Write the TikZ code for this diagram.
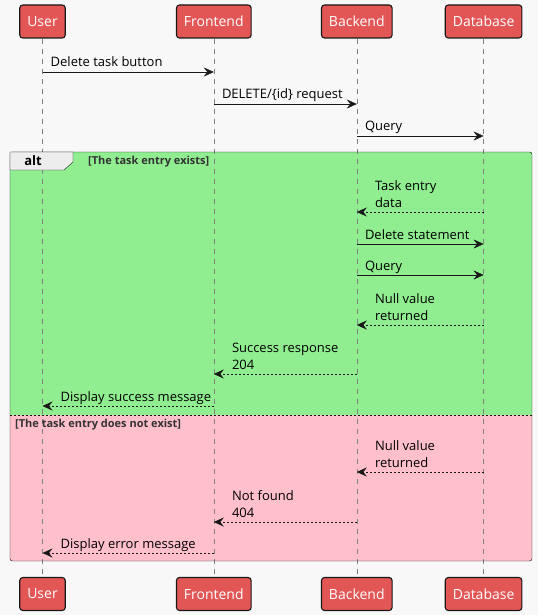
\documentclass[tikz,border=0pt]{standalone}
\usepackage{fontspec}
\setmainfont{Open Sans}
\usetikzlibrary{arrows.meta}

\definecolor{partred}{HTML}{E25656}
\definecolor{okgreen}{HTML}{90EE90}
\definecolor{nopink}{HTML}{FFC0CB}
\definecolor{bgpaper}{HTML}{F8F8F8}
\definecolor{inkdark}{HTML}{181818}

\tikzset{
  actor/.style={draw=inkdark, fill=partred, rounded corners=3pt, line width=1.1pt,
    minimum height=33pt, inner xsep=7.5pt, text=white,
    font=\fontsize{14}{16}\selectfont},
  life/.style={draw=gray, dash pattern=on 5pt off 5pt},
  call/.style={draw=inkdark, -{Stealth[length=10pt,width=9pt,inset=3.5pt]}},
  reply/.style={call, dash pattern=on 2pt off 2pt},
  lbl/.style={font=\fontsize{13}{16.5}\selectfont, align=left, inner sep=0pt,
    anchor=base west},
  fwd/.style={lbl, pos=0, xshift=8pt, yshift=5pt},
  bwd/.style={lbl, pos=1, xshift=18pt, yshift=5pt},
  guard/.style={font=\bfseries\fontsize{11}{12}\selectfont, text=black!80,
    inner sep=0pt, anchor=base west}
}

\begin{document}
\begin{tikzpicture}[x=1pt, y=-1pt]
    \fill[bgpaper] (0,0) rectangle (538,615);
    \useasboundingbox (0,0) rectangle (538,615);
    % participants, top and bottom
    \node[actor] (uT) at (42.5,21.5) {User};
    \node[actor] (fT) at (213.8,21.5) {Frontend};
    \node[actor] (bT) at (356.8,21.5) {Backend};
    \node[actor] (dT) at (483.6,21.5) {Database};
    \node[actor] (uB) at (42.5,594) {User};
    \node[actor] (fB) at (213.8,594) {Frontend};
    \node[actor] (bB) at (356.8,594) {Backend};
    \node[actor] (dB) at (483.6,594) {Database};
    % alt frame, background
    \fill[okgreen] (10,152) rectangle (532,415);
    \fill[nopink] (10,415) rectangle (532,561);
    % lifelines
    \foreach \p in {u,f,b,d}
      \draw[life] (\p T.south) -- (\p B.north);
    % alt frame, border and tab
    \draw[inkdark, rounded corners=2.5pt] (10,152) rectangle (532,561);
    \draw[inkdark, dash pattern=on 2pt off 2pt] (10,415) -- (532,415);
    \draw[inkdark, fill=black!7] (10,170) -- (10,152) -- (73,152) -- (73,162)
      -- (64,170) -- cycle;
    \node[font=\bfseries\fontsize{13}{15}\selectfont] (alt) at (33,161) {alt};
    \node[guard] (yes) at (88,164.5) {[The task entry exists]};
    \node[guard] (no) at (15,427) {[The task entry does not exist]};
    % one point per lifeline and message row
    \foreach \p in {u,f,b,d}
      \foreach \r/\y in {1/72,2/104,3/136,4/212,5/244,6/275,7/325,8/374,9/406,10/472,11/522,12/553}
        \coordinate (\p\r) at (\p T |- 0,\y);
    % messages
    \draw[call] (u1) -- node[fwd] {Delete task button} (f1);
    \draw[call] (f2) -- node[fwd] {DELETE/\{id\} request} (b2);
    \draw[call] (b3) -- node[fwd] {Query} (d3);
    \draw[reply] (d4) -- node[bwd] {Task entry\\data} (b4);
    \draw[call] (b5) -- node[fwd] {Delete statement} (d5);
    \draw[call] (b6) -- node[fwd] {Query} (d6);
    \draw[reply] (d7) -- node[bwd] {Null value\\returned} (b7);
    \draw[reply] (b8) -- node[bwd] {Success response\\204} (f8);
    \draw[reply] (f9) -- node[bwd] {Display success message} (u9);
    \draw[reply] (d10) -- node[bwd] {Null value\\returned} (b10);
    \draw[reply] (b11) -- node[bwd] {Not found\\404} (f11);
    \draw[reply] (f12) -- node[bwd] {Display error message} (u12);
\end{tikzpicture}
\end{document}
